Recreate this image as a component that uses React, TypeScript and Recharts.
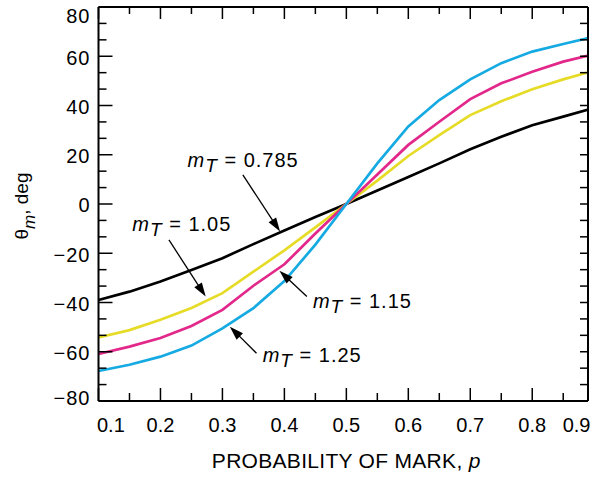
import React from 'react';
import { LineChart, Line, XAxis, YAxis, ReferenceLine, ReferenceDot } from 'recharts';

// ---- data ----
const pValues = [0.1, 0.15, 0.2, 0.25, 0.3, 0.35, 0.4, 0.45, 0.5, 0.55, 0.6, 0.65, 0.7, 0.75, 0.8, 0.85, 0.9];
const thetaMt0785 = [-39, -35.6, -31.5, -26.8, -22, -16.3, -10.8, -5.3, 0, 5.5, 11, 16.5, 22.2, 27.3, 32, 35.5, 39];
const thetaMt105 = [-54.2, -51.2, -47, -42.2, -36.2, -27.5, -18.8, -9.5, 0, 9.5, 19.5, 28, 36.1, 41.7, 46.6, 50.6, 54.2];
const thetaMt115 = [-60.9, -57.9, -54.4, -49.5, -43, -33.2, -24.5, -12, 0, 12, 24, 33.4, 42.6, 49, 53.7, 57.8, 60.9];
const thetaMt125 = [-67.8, -65.3, -62, -57.5, -50.5, -42.3, -31.3, -16.5, 0, 16.5, 31.5, 42.2, 50.6, 57.2, 61.9, 65, 68];

const xTickValues = [0.1, 0.15, 0.2, 0.25, 0.3, 0.35, 0.4, 0.45, 0.5, 0.55, 0.6, 0.65, 0.7, 0.75, 0.8, 0.85, 0.9];
const xTickLabels = ['0.1', '0.2', '0.3', '0.4', '0.5', '0.6', '0.7', '0.8', '0.9'];
const yTickLabels = [-80, -60, -40, -20, 0, 20, 40, 60, 80];

const seriesNames = ['0.785', '1.05', '1.15', '1.25'];
const seriesColors = ['#000000', '#e6dc28', '#e2288a', '#16aae2'];

// annotation anchors in data coordinates [p, theta]
const labelAt = [[0.2438, 15], [0.1546, -10.8], [0.446, -42.2], [0.365, -64]];
const arrowFrom = [[0.333, 11.8], [0.2137, -14.6], [0.4363, -37.6], [0.355, -60.6]];
const arrowTo = [[0.393, -11.2], [0.273, -37.6], [0.392, -27.1], [0.312, -49.8]];

const X_DOMAIN: [number, number] = [0.1, 0.89];
const Y_DOMAIN: [number, number] = [-80, 80];

const data = pValues.map((p, i) => ({
  p,
  a: thetaMt0785[i],
  b: thetaMt105[i],
  c: thetaMt115[i],
  d: thetaMt125[i],
}));

const yAllTicks: number[] = [];
yTickLabels.forEach((v, i) => {
  yAllTicks.push(v);
  if (i < yTickLabels.length - 1) {
    const step = (yTickLabels[i + 1] - v) / 3;
    yAllTicks.push(v + step, v + 2 * step);
  }
});

// ---- layout ----
const W = 595;
const H = 481;
const MARGIN = { top: 6, right: 6, bottom: 0, left: 0 };
const Y_AXIS_W = 98.5;
const X_AXIS_H = 80;
const PLOT_LEFT = MARGIN.left + Y_AXIS_W;
const PLOT_RIGHT = W - MARGIN.right - 1;
const FONT = 'Liberation Sans, Arial, Helvetica, sans-serif';

const fmtY = (v: number) => (v < 0 ? '\u2212' + Math.abs(v) : String(v));
const isMajorY = (v: number) => yTickLabels.some((t) => Math.abs(t - v) < 1e-6);
const labelForX = (v: number) => xTickLabels.find((t) => Math.abs(parseFloat(t) - v) < 1e-6);

const LeftTick = (props: any) => {
  const { x, y, payload } = props;
  const v = payload.value;
  const major = isMajorY(v);
  let dy = 8.4;
  if (v === yTickLabels[yTickLabels.length - 1]) dy = 15.7;
  else if (v === yTickLabels[0]) dy = 4;
  return (
    <g>
      <line x1={x} y1={y} x2={x + (major ? 14 : 8)} y2={y} stroke="#000" strokeWidth={1.5} />
      {major && (
        <text
          x={x - 8}
          y={y + dy}
          textAnchor="end"
          fontSize={20}
          letterSpacing={1}
          fontFamily={FONT}
          fill="#000"
        >
          {fmtY(v)}
        </text>
      )}
    </g>
  );
};

const RightTick = (props: any) => {
  const { x, y } = props;
  return <line x1={x} y1={y} x2={x - 8} y2={y} stroke="#000" strokeWidth={1.5} />;
};

const BottomTick = (props: any) => {
  const { x, y, payload } = props;
  const v = payload.value;
  const label = labelForX(v);
  const inside = v <= X_DOMAIN[1] + 1e-9;
  let anchor: 'start' | 'middle' | 'end' = 'middle';
  let tx = x;
  if (label === xTickLabels[0]) {
    anchor = 'start';
    tx = PLOT_LEFT - 1.5;
  } else if (label === xTickLabels[xTickLabels.length - 1]) {
    anchor = 'end';
    tx = PLOT_RIGHT + 2.5;
  }
  return (
    <g>
      {inside && (
        <line x1={x} y1={y} x2={x} y2={y - (label ? 13 : 8)} stroke="#000" strokeWidth={1.5} />
      )}
      {label && (
        <text x={tx} y={y + 30.5} textAnchor={anchor} fontSize={20} fontFamily={FONT} fill="#000">
          {label}
        </text>
      )}
    </g>
  );
};

const TopTick = (props: any) => {
  const { x, y, payload } = props;
  const v = payload.value;
  if (v > X_DOMAIN[1] + 1e-9) return <g />;
  const label = labelForX(v);
  return <line x1={x} y1={y} x2={x} y2={y + (label ? 12 : 7)} stroke="#000" strokeWidth={1.5} />;
};

const Arrow = (props: any) => {
  const { x1, y1, x2, y2 } = props;
  const dx = x2 - x1;
  const dy = y2 - y1;
  const len = Math.hypot(dx, dy) || 1;
  const ux = dx / len;
  const uy = dy / len;
  const hl = 14;
  const hw = 4.5;
  const bx = x2 - ux * hl;
  const by = y2 - uy * hl;
  return (
    <g>
      <line x1={x1} y1={y1} x2={bx + ux * 2} y2={by + uy * 2} stroke="#000" strokeWidth={1.3} />
      <polygon
        points={`${x2},${y2} ${bx - uy * hw},${by + ux * hw} ${bx + uy * hw},${by - ux * hw}`}
        fill="#000"
      />
    </g>
  );
};

const makeLabelShape = (name: string) => (props: any) => {
  const { cx, cy } = props;
  return (
    <text x={cx} y={cy} fontSize={20} letterSpacing={1} fontFamily={FONT} fill="#000">
      <tspan fontStyle="italic">m</tspan>
      <tspan fontStyle="italic" fontSize={19} dy={5}>T</tspan>
      <tspan dy={-5}>{' = ' + name}</tspan>
    </text>
  );
};

const XTitle = (props: any) => {
  const vb = props.viewBox || { x: PLOT_LEFT, y: 401, width: PLOT_RIGHT - PLOT_LEFT, height: X_AXIS_H };
  return (
    <text
      x={vb.x + vb.width / 2 + 3}
      y={vb.y + 67}
      textAnchor="middle"
      fontSize={21}
      letterSpacing={0.3}
      fontFamily={FONT}
      fill="#000"
    >
      PROBABILITY OF MARK, <tspan fontStyle="italic">p</tspan>
    </text>
  );
};

const YTitle = (props: any) => {
  const vb = props.viewBox || { x: 0, y: 7, width: Y_AXIS_W, height: 394 };
  const cx = 28;
  const cy = vb.y + vb.height / 2 + 2;
  return (
    <text
      transform={`translate(${cx},${cy}) rotate(-90)`}
      textAnchor="middle"
      fontSize={19}
      fontFamily={FONT}
      fill="#000"
    >
      θ
      <tspan fontStyle="italic" fontSize={17} dy={7}>m</tspan>
      <tspan dy={-7}>, deg</tspan>
    </text>
  );
};

export default function App() {
  const keys = ['a', 'b', 'c', 'd'];
  return (
    <div style={{ position: 'absolute', left: 0, top: 0, width: W, height: H, background: '#fff' }}>
      <LineChart width={W} height={H} data={data} margin={MARGIN}>
        <XAxis
          dataKey="p"
          type="number"
          domain={X_DOMAIN}
          allowDataOverflow
          ticks={xTickValues}
          interval={0}
          tickSize={0}
          tickMargin={0}
          tickLine={false}
          tick={<BottomTick />}
          axisLine={{ stroke: '#000', strokeWidth: 2 }}
          height={X_AXIS_H}
          label={<XTitle />}
        />
        <XAxis
          xAxisId="top"
          orientation="top"
          dataKey="p"
          type="number"
          domain={X_DOMAIN}
          allowDataOverflow
          ticks={xTickValues}
          interval={0}
          tickSize={0}
          tickMargin={0}
          tickLine={false}
          tick={<TopTick />}
          axisLine={{ stroke: '#000', strokeWidth: 2 }}
          height={1}
        />
        <YAxis
          type="number"
          domain={Y_DOMAIN}
          allowDataOverflow
          ticks={yAllTicks}
          interval={0}
          tickSize={0}
          tickMargin={0}
          tickLine={false}
          tick={<LeftTick />}
          axisLine={{ stroke: '#000', strokeWidth: 2 }}
          width={Y_AXIS_W}
          label={<YTitle />}
        />
        <YAxis
          yAxisId="right"
          orientation="right"
          type="number"
          domain={Y_DOMAIN}
          allowDataOverflow
          ticks={yAllTicks}
          interval={0}
          tickSize={0}
          tickMargin={0}
          tickLine={false}
          tick={<RightTick />}
          axisLine={{ stroke: '#000', strokeWidth: 2 }}
          width={1}
        />
        {keys.map((k, i) => (
          <Line
            key={k}
            dataKey={k}
            type="linear"
            stroke={seriesColors[i]}
            strokeWidth={2.7}
            dot={false}
            activeDot={false}
            isAnimationActive={false}
          />
        ))}
        {seriesNames.map((name, i) => (
          <ReferenceLine
            key={'arrow' + i}
            segment={[
              { x: arrowFrom[i][0], y: arrowFrom[i][1] },
              { x: arrowTo[i][0], y: arrowTo[i][1] },
            ]}
            shape={Arrow}
            ifOverflow="visible"
          />
        ))}
        {seriesNames.map((name, i) => (
          <ReferenceDot
            key={'lbl' + i}
            x={labelAt[i][0]}
            y={labelAt[i][1]}
            r={0}
            ifOverflow="visible"
            shape={makeLabelShape(name)}
          />
        ))}
      </LineChart>
    </div>
  );
}
